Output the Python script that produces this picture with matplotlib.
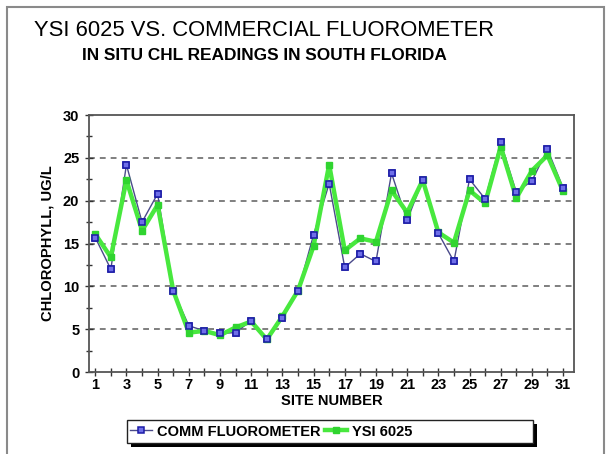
import numpy as np
import matplotlib.pyplot as plt
from matplotlib.patches import Rectangle
from matplotlib.ticker import MultipleLocator

plt.rcParams['font.family'] = ['Liberation Sans', 'DejaVu Sans']

# site numbers and chlorophyll readings (ug/L)
sites = np.arange(1, 32)
comm = [15.7, 12.0, 24.2, 17.5, 20.8, 9.5, 5.4, 4.8, 4.5, 4.6, 6.0, 3.8, 6.3, 9.4, 16.0, 22.0,
        12.2, 13.8, 12.9, 23.2, 17.7, 22.4, 16.2, 12.9, 22.5, 20.2, 26.8, 21.0, 22.3, 26.0, 21.5]
ysi = [16.1, 13.4, 22.4, 16.5, 19.5, 9.5, 4.6, 4.8, 4.3, 5.2, 5.9, 3.8, 6.5, 9.5, 14.7, 24.2,
       14.2, 15.6, 15.2, 21.2, 18.6, 22.4, 16.3, 15.1, 21.2, 19.7, 26.3, 20.3, 23.5, 25.3, 21.1]
xlabels = [str(s) if s % 2 == 1 else '' for s in sites]

fig = plt.figure(figsize=(6.06, 4.54), dpi=100)
W, H = 606, 454
ax = fig.add_axes([89 / W, 1 - 372 / H, (574 - 89) / W, (372 - 115) / H])

blue_line = '#4a4a8a'
blue_face = '#6f6fe8'
blue_edge = '#1c1ca8'
green = '#48e83e'

ax.plot(sites, comm, color=blue_line, lw=1.0, marker='s', ms=5,
        mfc=blue_face, mec=blue_edge, mew=1.1, zorder=3, label='COMM FLUOROMETER')
ax.plot(sites, ysi, color=green, lw=3.2, marker='s', ms=4,
        mfc='#30d430', mec='#30d430', zorder=4, label='YSI 6025')
# blue markers sit above the green line
ax.plot(sites, comm, ls='none', marker='s', ms=5,
        mfc=blue_face, mec=blue_edge, mew=1.1, zorder=5)

ax.set_xlim(0.6, 31.7)
ax.set_ylim(0, 30)
ax.set_xticks(sites)
ax.set_xticklabels(xlabels)
ax.yaxis.set_major_locator(MultipleLocator(5))
ax.yaxis.set_minor_locator(MultipleLocator(2.5))

for y in range(5, 30, 5):
    ax.axhline(y, color='#6a6a6a', lw=1.2, ls=(0, (3.5, 3)), zorder=1)

for s in ax.spines.values():
    s.set_color('#555555')
    s.set_linewidth(1.3)

ax.tick_params(axis='x', direction='inout', length=6, width=1, colors='#333333',
               labelcolor='black', labelsize=10.5, pad=1.5)
ax.tick_params(axis='y', which='major', direction='inout', length=6, width=1,
               colors='#333333', labelcolor='black', labelsize=10.5, pad=4)
ax.tick_params(axis='y', which='minor', direction='inout', length=4, width=1, colors='#333333')
for lab in ax.get_xticklabels() + ax.get_yticklabels():
    lab.set_fontweight('bold')

ax.set_xlabel('SITE NUMBER', fontsize=10.6, fontweight='bold', labelpad=1)
ax.set_ylabel('CHLOROPHYLL, UG/L', fontsize=10.6, fontweight='bold', labelpad=6)

fig.text(264 / W, 1 - 30 / H, 'YSI 6025 VS. COMMERCIAL FLUOROMETER',
         ha='center', va='center', fontsize=15.8)
fig.text(264 / W, 1 - 56 / H, 'IN SITU CHL READINGS IN SOUTH FLORIDA',
         ha='center', va='center', fontsize=12.4, fontweight='bold')

# outer frame of the picture
fig.patches.append(Rectangle((7 / W, -0.05), (604 - 7) / W, (454 - 7) / H + 0.05,
                             transform=fig.transFigure, fill=False,
                             edgecolor='#8a8a8a', lw=1.5))
# legend box with dark drop shadow
fig.patches.append(Rectangle((131 / W, 1 - 447 / H), (537 - 131) / W, (447 - 424) / H,
                             transform=fig.transFigure, facecolor='black',
                             edgecolor='black', lw=0))
fig.patches.append(Rectangle((127 / W, 1 - 443 / H), (533 - 127) / W, (443 - 420) / H,
                             transform=fig.transFigure, facecolor='white',
                             edgecolor='#222222', lw=1.0))

leg = fig.legend(loc='center left', bbox_to_anchor=(130 / W, 1 - 431.5 / H), ncol=2,
                 frameon=False, numpoints=1, handlelength=1.5, handletextpad=0.35,
                 columnspacing=0.3, borderpad=0, borderaxespad=0,
                 prop={'weight': 'bold', 'size': 10.5})

fig.savefig('out.png', dpi=100)
